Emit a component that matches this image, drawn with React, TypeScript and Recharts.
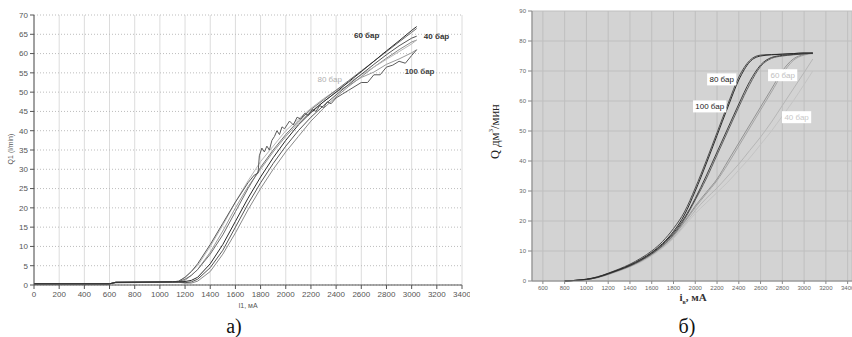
import React from 'react';
import { LineChart, Line, XAxis, YAxis, CartesianGrid, ReferenceDot } from 'recharts';

// ---- chart a) : Q1 vs I1 ----
const leftI = [0, 600, 650, 1100, 1150, 1200, 1250, 1300, 1400, 1500, 1600, 1700, 1800, 1900, 2000, 2100, 2200, 2300, 2400, 2500, 2600, 2700, 2800, 2900, 3000, 3040];
const left60a = [0.3, 0.3, 0.7, 0.8, 0.8, 0.9, 1.2, 2, 5.5, 10.5, 16.5, 22.5, 28, 33, 37.5, 41.5, 44.7, 47.5, 50, 52.7, 55.3, 58, 60.7, 63.3, 66, 67];
const left60b = [0.3, 0.3, 0.7, 0.8, 0.9, 1.5, 2.5, 4, 8, 13, 19, 25, 30.5, 35, 39, 42.5, 45.5, 48, 50.5, 53, 55.5, 58, 60.5, 63, 65.5, 66.5];
const left40a = [0.3, 0.3, 0.7, 0.8, 0.8, 0.6, 0.8, 1.5, 4.5, 9, 15, 21, 26.5, 31.5, 36, 40, 43.5, 46.5, 49.3, 52, 54.6, 57.2, 59.7, 62, 64, 64.5];
const left40b = [0.3, 0.3, 0.6, 0.7, 0.7, 0.5, 0.5, 1, 3.5, 8, 13.5, 19.5, 25, 30, 34.5, 38.5, 42.5, 45.8, 48.8, 51.5, 54, 56.5, 58.8, 61, 63, 63.5];
const left80a = [0.3, 0.3, 0.7, 0.8, 1, 2, 3.5, 5, 10, 15.5, 21.5, 27, 32, 36, 40, 43, 45.8, 48.3, 50.5, 52.5, 54.5, 56.5, 58.5, 60.5, 62.5, 63.5];
const left80b = [0.3, 0.3, 0.6, 0.7, 0.8, 1.2, 2.5, 4, 8.5, 14, 20, 25.5, 30, 34.5, 38.5, 42, 45, 47.5, 50, 51.8, 53.8, 55.2, 57.2, 58.6, 60.2, 61];

// noisy 100 bar run has its own, denser current grid
const noisyI = [0, 600, 650, 1100, 1150, 1200, 1250, 1300, 1400, 1500, 1600, 1700, 1750, 1780, 1790, 1810, 1830, 1850, 1870, 1890, 1910, 1930, 1950, 1970, 1990, 2010, 2030, 2060, 2090, 2120, 2150, 2180, 2210, 2240, 2270, 2300, 2330, 2360, 2400, 2450, 2500, 2550, 2600, 2650, 2700, 2750, 2800, 2850, 2900, 2950, 3000, 3040];
const left100 = [0.3, 0.3, 0.7, 0.8, 1, 2, 3.5, 5.5, 10.5, 16, 21.5, 26.5, 28.5, 29, 33.5, 35.5, 34.5, 36, 35, 37.5, 38.5, 40, 39, 41, 40.5, 41.5, 42.5, 41.5, 43.5, 43, 44.5, 44, 45.5, 45, 46.5, 46, 47.5, 47, 48.5, 49.5, 50.5, 51.5, 52.5, 52.5, 54.5, 54.5, 56.5, 57, 58, 57.5, 59.5, 61];

const leftXTicks = [0, 200, 400, 600, 800, 1000, 1200, 1400, 1600, 1800, 2000, 2200, 2400, 2600, 2800, 3000, 3200, 3400];
const leftYTicks = [0, 5, 10, 15, 20, 25, 30, 35, 40, 45, 50, 55, 60, 65, 70];

// ---- chart б) : Q vs iв ----
const rightI = [800, 900, 1000, 1100, 1200, 1300, 1400, 1500, 1600, 1700, 1800, 1900, 2000, 2100, 2200, 2300, 2400, 2500, 2600, 2700, 2800, 2900, 3000, 3080];
const right80a = [0, 0.2, 0.6, 1.3, 2.5, 3.8, 5.3, 7.2, 9.5, 12.5, 16.5, 22, 30, 39, 48.5, 58, 67, 73, 75, 75.4, 75.6, 75.8, 76, 76];
const right80b = [0, 0.2, 0.6, 1.4, 2.6, 4, 5.6, 7.6, 10, 13.2, 17.5, 23, 31, 40, 49.5, 59, 68, 73.5, 75.3, 75.5, 75.6, 75.8, 76, 75.8];
const right100a = [0, 0.2, 0.5, 1.2, 2.4, 3.7, 5.2, 7, 9.3, 12.2, 16, 21, 27.5, 35, 43, 51, 59, 66.5, 72, 74.5, 75.2, 75.5, 75.8, 76];
const right100b = [0, 0.2, 0.5, 1.2, 2.3, 3.6, 5, 6.8, 9, 11.8, 15.5, 20.5, 27, 34, 42, 50, 58, 65.5, 71.5, 74.2, 75, 75.4, 75.7, 75.9];
const right60a = [0, 0.2, 0.5, 1.2, 2.3, 3.6, 5, 6.8, 9, 11.7, 15.2, 19.8, 25, 29.5, 34, 40, 46, 52, 58, 64, 70, 74, 75.5, 76];
const right60b = [0, 0.2, 0.5, 1.1, 2.2, 3.5, 4.9, 6.6, 8.8, 11.5, 15, 19.5, 24.5, 29, 33.5, 39, 45, 51, 57, 63, 69, 73.5, 75.3, 75.8];
const right40a = [0, 0.2, 0.5, 1.1, 2.2, 3.4, 4.8, 6.5, 8.6, 11.2, 14.5, 18.8, 23.5, 27.5, 31, 35, 39, 43.5, 48, 53, 58.5, 64, 69.5, 74];
const right40b = [0, 0.2, 0.5, 1.1, 2.1, 3.3, 4.7, 6.3, 8.4, 11, 14.2, 18.3, 22.5, 26, 29.5, 33, 37, 41, 45.5, 50, 55, 60, 65.5, 70];

const rightXTicks = [600, 800, 1000, 1200, 1400, 1600, 1800, 2000, 2200, 2400, 2600, 2800, 3000, 3200, 3400];
const rightYTicks = [0, 10, 20, 30, 40, 50, 60, 70, 80, 90];

const pts = (xs: number[], ys: number[]) => xs.map((x, i) => ({ x, y: ys[i] }));
const range = (a: number, b: number, s: number) => {
  const out: number[] = [];
  for (let v = a; v <= b + 1e-9; v += s) out.push(v);
  return out;
};

const leftSeries = [
  { key: '40b', data: pts(leftI, left40b), color: '#8a8a8a' },
  { key: '80b', data: pts(leftI, left80b), color: '#9a9a9a' },
  { key: '80a', data: pts(leftI, left80a), color: '#b8b8b8' },
  { key: '60b', data: pts(leftI, left60b), color: '#6e6e6e' },
  { key: '40a', data: pts(leftI, left40a), color: '#555555' },
  { key: '100', data: pts(noisyI, left100), color: '#5a5a5a' },
  { key: '60a', data: pts(leftI, left60a), color: '#2a2a2a' },
];

const rightSeries = [
  { key: '40b', data: pts(rightI, right40b), color: '#c4c4c4' },
  { key: '40a', data: pts(rightI, right40a), color: '#b6b6b6' },
  { key: '60b', data: pts(rightI, right60b), color: '#a4a4a4' },
  { key: '60a', data: pts(rightI, right60a), color: '#929292' },
  { key: '100b', data: pts(rightI, right100b), color: '#5e5e5e' },
  { key: '100a', data: pts(rightI, right100a), color: '#3e3e3e' },
  { key: '80b', data: pts(rightI, right80b), color: '#4e4e4e' },
  { key: '80a', data: pts(rightI, right80a), color: '#2a2a2a' },
];

const sans = '"Liberation Sans", Arial, sans-serif';
const serif = '"Liberation Serif", "Times New Roman", serif';

const boxLabel = (text: string, color: string) => (props: any) => {
  const vb = props.viewBox || {};
  const cx = vb.x + (vb.width || 0) / 2;
  const cy = vb.y + (vb.height || 0) / 2;
  const w = text.length * 4.2 + 4;
  return (
    <g>
      <rect x={cx - w / 2} y={cy - 6} width={w} height={12} fill="#ffffff" />
      <text x={cx} y={cy + 3} textAnchor="middle" fontSize={8} fontFamily={sans} fill={color}>
        {text}
      </text>
    </g>
  );
};

const LeftChart = () => (
  <LineChart width={470} height={320} margin={{ top: 15, right: 8, bottom: 15, left: 0 }}>
    <CartesianGrid horizontal={false} stroke="#dcdcdc" />
    <CartesianGrid vertical={false} stroke="#bdbdbd" strokeDasharray="1 2" />
    <XAxis xAxisId="minor" type="number" dataKey="x" domain={[0, 3400]} ticks={range(0, 3400, 100)}
      tick={false} height={0} tickSize={2} axisLine={false} stroke="#555" />
    <XAxis type="number" dataKey="x" domain={[0, 3400]} ticks={leftXTicks} height={20} tickSize={4}
      stroke="#555" tick={{ fontSize: 8, fill: '#555', fontFamily: sans }} interval={0} />
    <XAxis xAxisId="top" orientation="top" type="number" dataKey="x" domain={[0, 3400]} ticks={range(0, 3400, 100)}
      tick={false} height={0} tickSize={3} stroke="#666" />
    <YAxis yAxisId="minor" type="number" domain={[0, 70]} ticks={range(0, 70, 2.5)} tick={false}
      width={0} tickSize={2} axisLine={false} stroke="#555" />
    <YAxis type="number" domain={[0, 70]} ticks={leftYTicks} width={34} tickSize={4} stroke="#555"
      tick={{ fontSize: 8, fill: '#555', fontFamily: sans }} interval={0} />
    {leftSeries.map(s => (
      <Line key={s.key} data={s.data} dataKey="y" type="linear" stroke={s.color} strokeWidth={1}
        dot={false} isAnimationActive={false} />
    ))}
    <ReferenceDot x={2643} y={64.8} r={0} stroke="none" fill="none"
      label={{ value: '60 бар', position: 'center', fontSize: 8, fill: '#333', fontWeight: 'bold', fontFamily: sans }} />
    <ReferenceDot x={3198} y={64.6} r={0} stroke="none" fill="none"
      label={{ value: '40 бар', position: 'center', fontSize: 8, fill: '#333', fontWeight: 'bold', fontFamily: sans }} />
    <ReferenceDot x={3063} y={55.5} r={0} stroke="none" fill="none"
      label={{ value: '100 бар', position: 'center', fontSize: 8, fill: '#444', fontWeight: 'bold', fontFamily: sans }} />
    <ReferenceDot x={2349} y={53.4} r={0} stroke="none" fill="none"
      label={{ value: '80 бар', position: 'center', fontSize: 8, fill: '#b0b0b0', fontFamily: sans }} />
  </LineChart>
);

const RightChart = () => (
  <LineChart width={392} height={320} margin={{ top: 11, right: 0, bottom: 19, left: 0 }}>
    <CartesianGrid fill="#d3d3d3" stroke="#bfbfbf" />
    <XAxis xAxisId="minor" type="number" dataKey="x" domain={[500, 3440]} ticks={range(600, 3400, 100)}
      tick={false} height={0} tickSize={2} axisLine={false} stroke="#777" />
    <XAxis type="number" dataKey="x" domain={[500, 3440]} ticks={rightXTicks} height={20} tickSize={3}
      stroke="#888" tick={{ fontSize: 6, fill: '#666', fontFamily: sans }} interval={0} />
    <XAxis xAxisId="top" orientation="top" type="number" dataKey="x" domain={[500, 3440]} ticks={range(600, 3400, 100)}
      tick={false} height={0} tickSize={3} stroke="#888" />
    <YAxis yAxisId="minor" type="number" domain={[0, 90]} ticks={range(0, 90, 2)} tick={false}
      width={0} tickSize={2} axisLine={false} stroke="#888" />
    <YAxis type="number" domain={[0, 90]} ticks={rightYTicks} width={72} tickSize={4} stroke="#888"
      tick={{ fontSize: 6, fill: '#666', fontFamily: sans }} interval={0} />
    {rightSeries.map(s => (
      <Line key={s.key} data={s.data} dataKey="y" type="monotone" stroke={s.color} strokeWidth={1}
        dot={false} isAnimationActive={false} />
    ))}
    <ReferenceDot x={2243} y={67.2} r={0} stroke="none" fill="none" label={boxLabel('80 бар', '#222')} />
    <ReferenceDot x={2133} y={58.2} r={0} stroke="none" fill="none" label={boxLabel('100 бар', '#222')} />
    <ReferenceDot x={2803} y={68.6} r={0} stroke="none" fill="none" label={boxLabel('60 бар', '#c0c0c0')} />
    <ReferenceDot x={2931} y={54.6} r={0} stroke="none" fill="none" label={boxLabel('40 бар', '#c8c8c8')} />
  </LineChart>
);

const abs = (left: number, top: number): React.CSSProperties => ({ position: 'absolute', left, top });

export default function App() {
  return (
    <div style={{ position: 'absolute', left: 0, top: 0, width: 852, height: 337, background: '#fff', overflow: 'hidden' }}>
      <div style={abs(0, 0)}><LeftChart /></div>
      <div style={abs(460, 0)}><RightChart /></div>

      <div style={{ ...abs(-19, 145), width: 60, textAlign: 'center', transform: 'rotate(-90deg)', fontSize: 7, color: '#555', fontFamily: sans, lineHeight: '8px' }}>
        Q1 (l/min)
      </div>
      <div style={{ ...abs(218, 302), width: 60, textAlign: 'center', fontSize: 7, color: '#555', fontFamily: sans, lineHeight: '8px' }}>
        I1, мА
      </div>
      <div style={{ ...abs(204, 315), width: 60, textAlign: 'center', fontSize: 20, color: '#111', fontFamily: serif, lineHeight: '22px' }}>
        а)
      </div>

      <div style={{ ...abs(443, 122), width: 100, textAlign: 'center', transform: 'rotate(-90deg)', fontSize: 12.5, color: '#222', fontFamily: serif, lineHeight: '16px' }}>
        Q дм<sup style={{ fontSize: 7 }}>3</sup>/мин
      </div>
      <div style={{ ...abs(653, 291), width: 80, textAlign: 'center', fontSize: 11, fontWeight: 'bold', color: '#333', fontFamily: serif, lineHeight: '12px' }}>
        i<sub style={{ fontSize: 6 }}>в</sub>, мА
      </div>
      <div style={{ ...abs(657, 315), width: 60, textAlign: 'center', fontSize: 20, color: '#111', fontFamily: serif, lineHeight: '22px' }}>
        б)
      </div>
    </div>
  );
}
